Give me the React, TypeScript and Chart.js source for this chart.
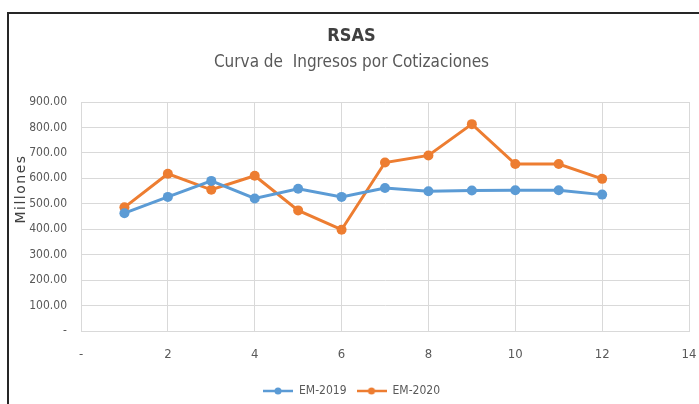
import React, { useEffect, useRef } from "react";
import { Chart, registerables } from "chart.js";

Chart.register(...registerables);

const months = [1, 2, 3, 4, 5, 6, 7, 8, 9, 10, 11, 12];
const em2019 = [463, 527, 590, 521, 559, 527, 562, 549, 552, 553, 553, 536];
const em2020 = [486, 618, 555, 610, 474, 398, 662, 690, 813, 656, 656, 598];
const seriesNames = ["EM-2019", "EM-2020"];
const seriesColors = ["#5B9BD5", "#ED7D31"];
const titleText = "RSAS";
const subtitleText = "Curva de  Ingresos por Cotizaciones";
const yAxisTitle = "Millones";

const NARROW = "'Liberation Sans Narrow', 'DejaVu Sans Condensed', 'Liberation Sans', sans-serif";

function legendIcon(color: string): HTMLCanvasElement {
  const c = document.createElement("canvas");
  c.width = 30;
  c.height = 10;
  const ctx = c.getContext("2d")!;
  ctx.strokeStyle = color;
  ctx.lineWidth = 2.5;
  ctx.beginPath();
  ctx.moveTo(0, 5);
  ctx.lineTo(30, 5);
  ctx.stroke();
  ctx.fillStyle = color;
  ctx.beginPath();
  ctx.arc(15, 5, 3.5, 0, Math.PI * 2);
  ctx.fill();
  return c;
}

const yTitlePlugin = {
  id: "yTitle",
  afterDraw(chart: any) {
    const ctx = chart.ctx;
    ctx.save();
    ctx.translate(21, 189);
    ctx.rotate(-Math.PI / 2);
    ctx.font = "14px 'DejaVu Sans', sans-serif";
    (ctx as any).letterSpacing = "1.5px";
    ctx.fillStyle = "#404040";
    ctx.textAlign = "center";
    ctx.textBaseline = "middle";
    ctx.fillText(yAxisTitle, 0, 0);
    ctx.restore();
  },
};

export default function App() {
  const ref = useRef<HTMLCanvasElement>(null);

  useEffect(() => {
    if (!ref.current) return;
    const icons = seriesColors.map(legendIcon);
    const mk = (vals: number[]) => months.map((m, i) => ({ x: m, y: vals[i] }));
    const chart = new Chart(ref.current, {
      type: "line",
      data: {
        datasets: [
          {
            label: seriesNames[0],
            data: mk(em2019),
            borderColor: seriesColors[0],
            backgroundColor: seriesColors[0],
            pointBackgroundColor: seriesColors[0],
            pointBorderWidth: 0,
            pointRadius: 5,
            borderWidth: 3,
            tension: 0,
          },
          {
            label: seriesNames[1],
            data: mk(em2020),
            borderColor: seriesColors[1],
            backgroundColor: seriesColors[1],
            pointBackgroundColor: seriesColors[1],
            pointBorderWidth: 0,
            pointRadius: 5,
            borderWidth: 3,
            tension: 0,
          },
        ],
      },
      plugins: [yTitlePlugin],
      options: {
        animation: false,
        responsive: false,
        devicePixelRatio: 1,
        layout: { padding: { left: 0, right: -4, top: 0, bottom: 13 } },
        scales: {
          x: {
            type: "linear",
            min: 0,
            max: 14,
            afterFit(scale: any) {
              scale.height = 44;
              scale.paddingRight = 10;
              scale.paddingLeft = 0;
            },
            ticks: {
              stepSize: 2,
              autoSkip: false,
              maxRotation: 0,
              padding: 16,
              color: "#595959",
              font: { family: NARROW, size: 13 },
              callback: (v: any) => (v === 0 ? "-" : String(v)),
            },
            grid: { color: "#d9d9d9", lineWidth: 1, drawTicks: false },
            border: { display: true, color: "#d9d9d9" },
          },
          y: {
            min: 0,
            max: 900,
            afterFit(scale: any) {
              scale.width = 81;
            },
            ticks: {
              stepSize: 100,
              padding: 14,
              color: "#595959",
              font: { family: NARROW, size: 12 },
              callback: (v: any) => (v === 0 ? "-" : Number(v).toFixed(2)),
            },
            grid: { color: "#d9d9d9", lineWidth: 1, drawTicks: false },
            border: { display: true, color: "#d9d9d9" },
          },
        },
        plugins: {
          title: {
            display: true,
            text: titleText,
            color: "#404040",
            font: { family: NARROW, size: 18, weight: "bold" },
            padding: { top: 26, bottom: 0 },
          },
          subtitle: {
            display: true,
            text: subtitleText,
            color: "#595959",
            font: { family: NARROW, size: 17 },
            padding: { top: 5, bottom: 29 },
          },
          legend: {
            position: "bottom",
            labels: {
              usePointStyle: true,
              pointStyleWidth: 30,
              padding: 10,
              color: "#595959",
              font: { family: NARROW, size: 12 },
              generateLabels: (ch: any) =>
                ch.data.datasets.map((d: any, i: number) => ({
                  text: d.label,
                  pointStyle: icons[i],
                  fillStyle: seriesColors[i],
                  strokeStyle: seriesColors[i],
                  lineWidth: 0,
                  fontColor: "#595959",
                  hidden: false,
                  datasetIndex: i,
                })),
            },
          },
          tooltip: { enabled: false },
        },
      } as any,
    });
    return () => chart.destroy();
  }, []);

  return (
    <div
      style={{
        position: "fixed",
        left: 0,
        top: 0,
        width: 699,
        height: 404,
        overflow: "hidden",
        background: "#ffffff",
      }}
    >
      <div
        style={{
          position: "absolute",
          left: 7,
          top: 12,
          width: 720,
          height: 420,
          borderTop: "2px solid #262626",
          borderLeft: "2px solid #262626",
        }}
      />
      <canvas
        ref={ref}
        width={699}
        height={420}
        style={{ position: "absolute", left: 0, top: 0, width: 699, height: 420 }}
      />
    </div>
  );
}
